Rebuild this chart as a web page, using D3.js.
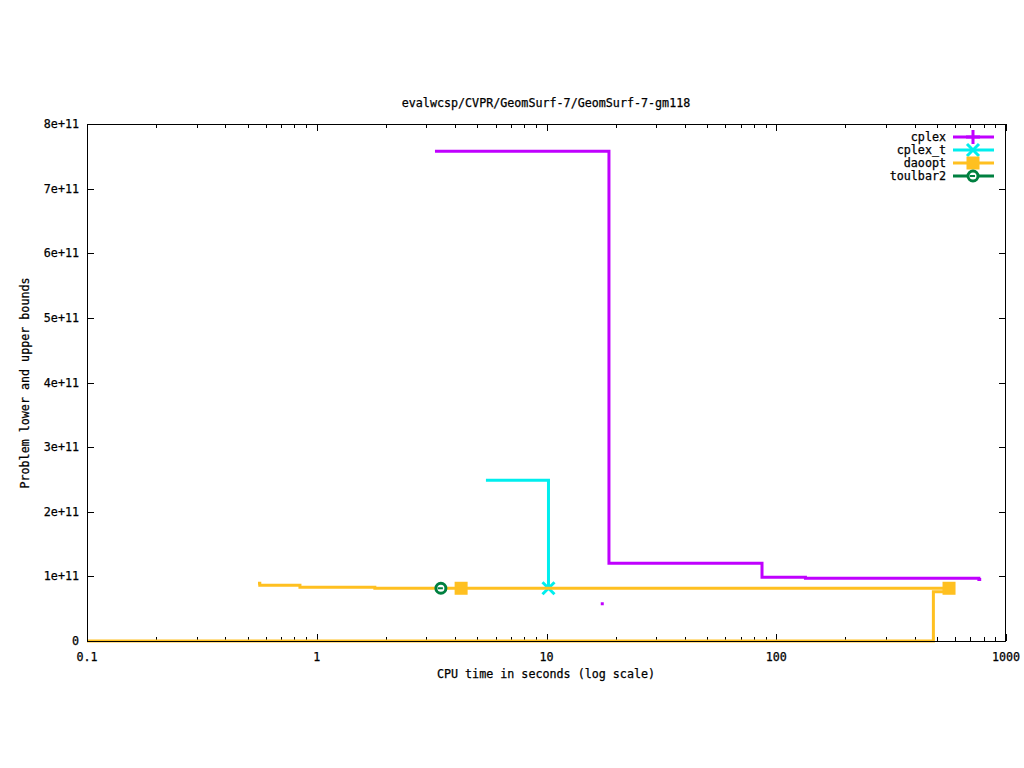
<!DOCTYPE html>
<html><head><meta charset="utf-8">
<script src="https://cdn.jsdelivr.net/npm/d3@7"></script>
<style>body{margin:0;background:#fff}text{font-family:"DejaVu Sans Mono",monospace;font-size:11.7px;fill:#000;stroke:#000;stroke-width:0.25px}</style>
</head><body>
<svg id="c" width="1024" height="768"></svg>
<script>
const title = "evalwcsp/CVPR/GeomSurf-7/GeomSurf-7-gm118";
const xLabel = "CPU time in seconds (log scale)";
const yLabel = "Problem lower and upper bounds";
const xTicks = [0.1, 1, 10, 100, 1000];
const xTickLabels = ["0.1", "1", "10", "100", "1000"];
const yTicks = [0, 1e11, 2e11, 3e11, 4e11, 5e11, 6e11, 7e11, 8e11];
const yTickLabels = ["0", "1e+11", "2e+11", "3e+11", "4e+11", "5e+11", "6e+11", "7e+11", "8e+11"];

const seriesNames = ["cplex", "cplex_t", "daoopt", "toulbar2"];
const seriesColors = ["#c000ff", "#00eeee", "#ffc020", "#008040"];
const seriesSymbols = ["plus", "cross", "square", "circle"];

// [time, bound]
const cplexUpper = [[3.27, 7.58e11], [18.7, 1.203e11], [86.7, 0.986e11], [134, 0.971e11], [762, 0.95e11], [780, 0.95e11]];
const cplexLower = [[17.4, 0.584e11]];
const cplexTUpper = [[5.45, 2.488e11], [10.2, 0.816e11]];
const cplexTMarks = [[10.2, 0.816e11]];
const daooptUpper = [[0.555, 0.893e11], [0.565, 0.862e11], [0.845, 0.831e11], [1.79, 0.816e11], [565, 0.816e11]];
const daooptLower = [[0.1, 0], [483, 0.763e11], [565, 0.763e11]];
const daooptMarks = [[4.25, 0.816e11], [565, 0.816e11]];
const toulbar2Marks = [[3.47, 0.816e11]];

const L = 87, R = 1006, T = 124, B = 641;
const svg = d3.select("#c");
svg.append("rect").attr("width", 1024).attr("height", 768).attr("fill", "#fff");
const x = d3.scaleLog().domain([0.1, 1000]).range([L, R]);
const y = d3.scaleLinear().domain([0, 8e11]).range([B, T]);

// ticks
const minor = [];
for (let d = 0.1; d < 1000; d *= 10) for (let k = 2; k <= 9; k++) minor.push(d * k);
const tk = svg.append("g").attr("stroke", "#000").attr("stroke-width", 1);
minor.forEach(v => {
  const px = Math.round(x(v)) + 0.5;
  tk.append("line").attr("x1", px).attr("x2", px).attr("y1", B).attr("y2", B - 4);
  tk.append("line").attr("x1", px).attr("x2", px).attr("y1", T).attr("y2", T + 4);
});
xTicks.forEach((v, i) => {
  const px = Math.round(x(v)) + 0.5;
  tk.append("line").attr("x1", px).attr("x2", px).attr("y1", B).attr("y2", B - 7);
  tk.append("line").attr("x1", px).attr("x2", px).attr("y1", T).attr("y2", T + 7);
  svg.append("text").attr("x", x(v)).attr("y", 661).attr("text-anchor", "middle").text(xTickLabels[i]);
});
yTicks.forEach((v, i) => {
  const py = Math.round(y(v)) + 0.5;
  tk.append("line").attr("x1", L).attr("x2", L + 7).attr("y1", py).attr("y2", py);
  tk.append("line").attr("x1", R).attr("x2", R - 7).attr("y1", py).attr("y2", py);
  svg.append("text").attr("x", 79).attr("y", y(v) + 4).attr("text-anchor", "end").text(yTickLabels[i]);
});

svg.append("text").attr("x", 546).attr("y", 107).attr("text-anchor", "middle").text(title);
svg.append("text").attr("x", 546).attr("y", 678).attr("text-anchor", "middle").text(xLabel);
svg.append("text").attr("transform", "translate(29,383) rotate(-90)").attr("text-anchor", "middle").text(yLabel);

const line = d3.line().x(d => x(d[0])).y(d => y(d[1])).curve(d3.curveStepAfter);
const plot = svg.append("g");
function drawLine(data, color) {
  plot.append("path").attr("d", line(data)).attr("fill", "none").attr("stroke", color).attr("stroke-width", 3);
}
function marker(g, sym, cx, cy, color) {
  if (sym === "plus") {
    g.append("path").attr("d", `M${cx - 7},${cy}H${cx + 7}M${cx},${cy - 7}V${cy + 7}`).attr("stroke", color).attr("stroke-width", 3);
  } else if (sym === "cross") {
    g.append("path").attr("d", `M${cx - 6},${cy - 6}L${cx + 6},${cy + 6}M${cx - 6},${cy + 6}L${cx + 6},${cy - 6}`).attr("stroke", color).attr("stroke-width", 3);
  } else if (sym === "square") {
    g.append("rect").attr("x", cx - 6.5).attr("y", cy - 6.5).attr("width", 13).attr("height", 13).attr("fill", color);
  } else {
    g.append("circle").attr("cx", cx).attr("cy", cy).attr("r", 5).attr("fill", "#fff").attr("stroke", color).attr("stroke-width", 3);
    g.append("line").attr("x1", cx - 3).attr("x2", cx + 2).attr("y1", cy).attr("y2", cy).attr("stroke", color).attr("stroke-width", 2);
  }
}

drawLine(cplexUpper, seriesColors[0]);
cplexLower.forEach(d => plot.append("rect").attr("x", x(d[0]) - 1).attr("y", y(d[1]) - 1).attr("width", 3).attr("height", 3).attr("fill", seriesColors[0]));
drawLine(cplexTUpper, seriesColors[1]);
cplexTMarks.forEach(d => marker(plot, "cross", x(d[0]), y(d[1]), seriesColors[1]));
drawLine(daooptUpper, seriesColors[2]);
drawLine(daooptLower, seriesColors[2]);
daooptMarks.forEach(d => marker(plot, "square", x(d[0]), y(d[1]), seriesColors[2]));
toulbar2Marks.forEach(d => marker(plot, "circle", x(d[0]), y(d[1]), seriesColors[3]));

// frame
svg.append("rect").attr("x", L + 0.5).attr("y", T + 0.5).attr("width", R - L - 1).attr("height", B - T).attr("fill", "none").attr("stroke", "#000");

// legend
seriesNames.forEach((n, i) => {
  const ly = 137 + i * 13;
  svg.append("text").attr("x", 946).attr("y", ly + 4).attr("text-anchor", "end").text(n);
  svg.append("line").attr("x1", 953).attr("x2", 994).attr("y1", ly).attr("y2", ly).attr("stroke", seriesColors[i]).attr("stroke-width", 3);
  marker(svg, seriesSymbols[i], 973, ly, seriesColors[i]);
});
</script>
</body></html>
